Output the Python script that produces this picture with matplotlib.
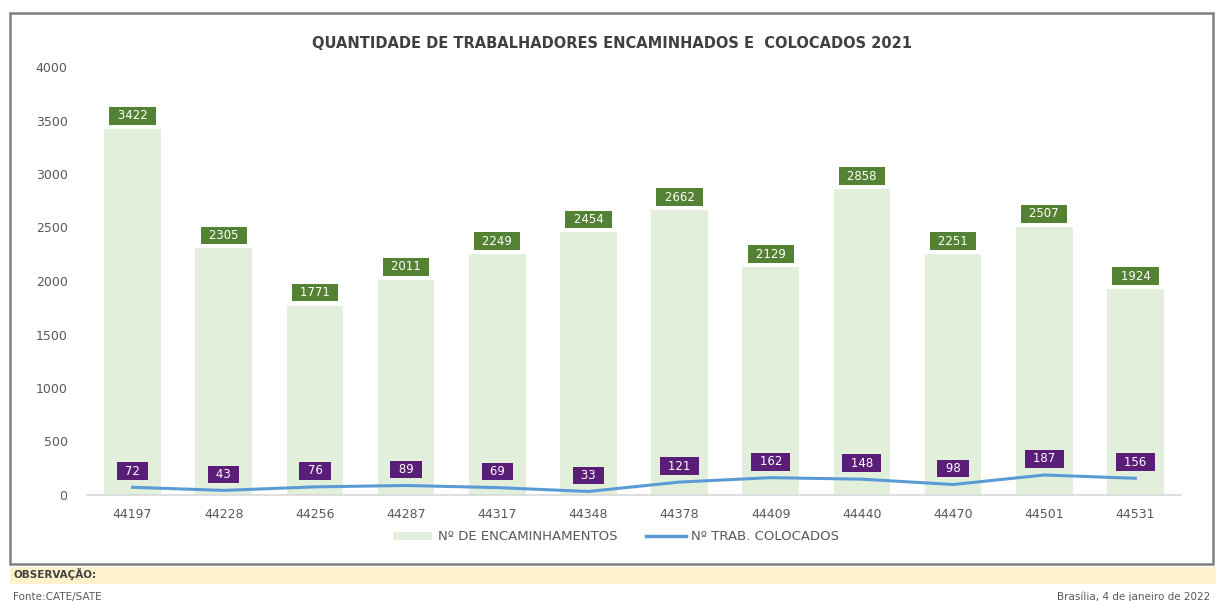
import matplotlib
matplotlib.use('Agg')
import matplotlib.pyplot as plt
from matplotlib.patches import Rectangle, Patch
from matplotlib.lines import Line2D
import numpy as np

# data
meses = ['44197', '44228', '44256', '44287', '44317', '44348',
         '44378', '44409', '44440', '44470', '44501', '44531']
encaminhamentos = [3422, 2305, 1771, 2011, 2249, 2454, 2662, 2129, 2858, 2251, 2507, 1924]
colocados = [72, 43, 76, 89, 69, 33, 121, 162, 148, 98, 187, 156]
y_ticks = [0, 500, 1000, 1500, 2000, 2500, 3000, 3500, 4000]

cor_barra = '#e2efda'
cor_linha = '#5b9bd5'
cor_verde = '#548235'
cor_roxo = '#5a1d78'
cor_texto = '#595959'
sp = '\u2002'

W, H = 1216, 601
fig = plt.figure(figsize=(W / 100, H / 100), dpi=100)

# outer frame and footer band
fig.patches.append(Rectangle((10 / W, 1 - 564 / H), 1203 / W, 551 / H,
                             transform=fig.transFigure, fill=False,
                             edgecolor='#7f7f7f', linewidth=1.8))
fig.patches.append(Rectangle((10 / W, 1 - 584 / H), 1206 / W, 17.5 / H,
                             transform=fig.transFigure, facecolor='#fff2cc',
                             edgecolor='none'))

ax = fig.add_axes([87 / W, 1 - 495 / H, 1094 / W, 428 / H])
x = np.arange(len(meses))

ax.bar(x, encaminhamentos, width=0.62, color=cor_barra, zorder=1)
ax.plot(x, colocados, color=cor_linha, linewidth=2.2, zorder=2)

for xi, v in zip(x, encaminhamentos):
    ax.annotate(sp + str(v) + sp, (xi, v), xytext=(0, 13), textcoords='offset pixels',
                ha='center', va='center', color='white', fontsize=8.5,
                bbox=dict(boxstyle='square,pad=0.2', facecolor=cor_verde, edgecolor='none'),
                zorder=4)

for xi, v in zip(x, colocados):
    ax.annotate(sp + str(v) + sp, (xi, v), xytext=(0, 16), textcoords='offset pixels',
                ha='center', va='center', color='white', fontsize=8.5,
                bbox=dict(boxstyle='square,pad=0.2', facecolor=cor_roxo, edgecolor='none'),
                zorder=4)

ax.set_xlim(-0.5, 11.5)
ax.set_ylim(0, 4000)
ax.set_yticks(y_ticks)
ax.set_xticks(x)
ax.set_xticklabels(meses)
ax.tick_params(axis='both', length=0, labelsize=9, colors=cor_texto)
ax.tick_params(axis='y', pad=14)
ax.tick_params(axis='x', pad=9)
for s in ['top', 'right', 'left']:
    ax.spines[s].set_visible(False)
ax.spines['bottom'].set_color('#d9d9d9')
ax.spines['bottom'].set_linewidth(1.2)
ax.set_facecolor('none')

fig.text(612 / W, 1 - 44 / H, 'QUANTIDADE DE TRABALHADORES ENCAMINHADOS E  COLOCADOS 2021',
         ha='center', va='center', fontsize=10.5, fontweight='bold', color='#404040')

handles = [Patch(facecolor=cor_barra, edgecolor='none', label='Nº DE ENCAMINHAMENTOS'),
           Line2D([], [], color=cor_linha, linewidth=2.5, label='Nº TRAB. COLOCADOS')]
fig.legend(handles=handles, loc='center', bbox_to_anchor=(616 / W, 1 - 537 / H), ncol=2,
           frameon=False, fontsize=9.5, handlelength=3.0, handleheight=0.6,
           handletextpad=0.4, columnspacing=2.2, labelcolor=cor_texto)

fig.text(13 / W, 1 - 574 / H, 'OBSERVAÇÃO:', ha='left', va='center',
         fontsize=7.5, fontweight='bold', color='#404040')
fig.text(13 / W, 1 - 597 / H, 'Fonte:CATE/SATE', ha='left', va='center',
         fontsize=7.5, color=cor_texto)
fig.text(1210 / W, 1 - 597 / H, 'Brasília, 4 de janeiro de 2022', ha='right', va='center',
         fontsize=7.5, color=cor_texto)

fig.savefig('out.png', dpi=100)
